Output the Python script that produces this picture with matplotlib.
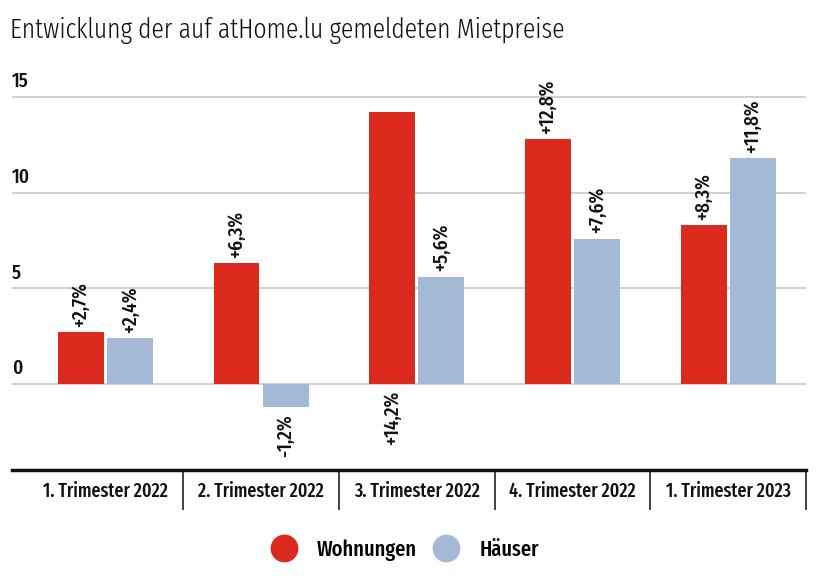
import matplotlib.pyplot as plt
from matplotlib.lines import Line2D
import numpy as np

plt.rcParams['font.family'] = ['Fira Sans Extra Condensed', 'Fira Sans Condensed', 'DejaVu Sans']

# data
categories = ['1. Trimester 2022', '2. Trimester 2022', '3. Trimester 2022',
              '4. Trimester 2022', '1. Trimester 2023']
wohnungen = [2.7, 6.3, 14.2, 12.8, 8.3]
haeuser = [2.4, -1.2, 5.6, 7.6, 11.8]
y_ticks = [0, 5, 10, 15]

red = '#dc2a1e'
blue = '#a4b9d5'

fig = plt.figure(figsize=(8.2, 5.78), dpi=100)
ax = fig.add_axes([12 / 820, 1 - 470 / 578, 794 / 820, 392 / 578])

x = np.arange(len(categories))
w = 0.295
off = 0.158
ax.bar(x - off, wohnungen, w, color=red, zorder=3)
ax.bar(x + off, haeuser, w, color=blue, zorder=3)

ax.set_xlim(-0.6, 4.5)
ax.set_ylim(-4.5, 16)


def fmt(v):
    return f'{v:+.1f}%'.replace('.', ',')


# value labels, rotated
lab = dict(rotation=90, ha='center', fontsize=15, fontweight=500, color='#111111')
for xs, vals in [(x - off, wohnungen), (x + off, haeuser)]:
    for xi, v in zip(xs, vals):
        if v > 14:
            # too tall: label goes under the zero line
            ax.annotate(fmt(v), (xi, 0), xytext=(0, -5), textcoords='offset points',
                        va='top', **lab)
        elif v >= 0:
            ax.annotate(fmt(v), (xi, v), xytext=(0, 4), textcoords='offset points',
                        va='bottom', **lab)
        else:
            ax.annotate(fmt(v), (xi, v), xytext=(0, -5), textcoords='offset points',
                        va='top', **lab)

# y grid and labels
ax.set_yticks(y_ticks)
ax.set_yticklabels([])
ax.tick_params(axis='y', length=0)
ax.yaxis.grid(True, color='#cccccc', linewidth=1.3, zorder=0)
for t in y_ticks:
    ax.annotate(str(t), (0, t), xycoords=('axes fraction', 'data'),
                xytext=(0, 4), textcoords='offset points',
                ha='left', va='bottom', fontsize=15, fontweight=500, color='#111111')

# category axis
ax.set_xticks(x)
ax.set_xticklabels(categories, fontsize=14, fontweight=500, color='#111111')
ax.tick_params(axis='x', length=0, pad=8)
for s in ['top', 'right', 'left']:
    ax.spines[s].set_visible(False)
ax.spines['bottom'].set_linewidth(2.5)
ax.spines['bottom'].set_color('#111111')
ax.vlines(x + 0.5, -0.102, 0, transform=ax.get_xaxis_transform(),
          color='#222222', linewidth=1.2, clip_on=False)

# title
fig.text(10 / 820, 1 - 38 / 578, 'Entwicklung der auf atHome.lu gemeldeten Mietpreise',
         fontsize=20, fontweight=300, ha='left', va='baseline', color='#111111')

# legend
handles = [Line2D([], [], marker='o', linestyle='none', markersize=19,
                  markerfacecolor=red, markeredgecolor=red, label='Wohnungen'),
           Line2D([], [], marker='o', linestyle='none', markersize=19,
                  markerfacecolor=blue, markeredgecolor=blue, label='Häuser')]
fig.legend(handles=handles, loc='center', bbox_to_anchor=(400 / 820, 1 - 550 / 578),
           ncol=2, frameon=False, prop={'size': 16, 'weight': 500},
           handletextpad=0.5, columnspacing=0.3)

fig.savefig('out.png', dpi=100)
